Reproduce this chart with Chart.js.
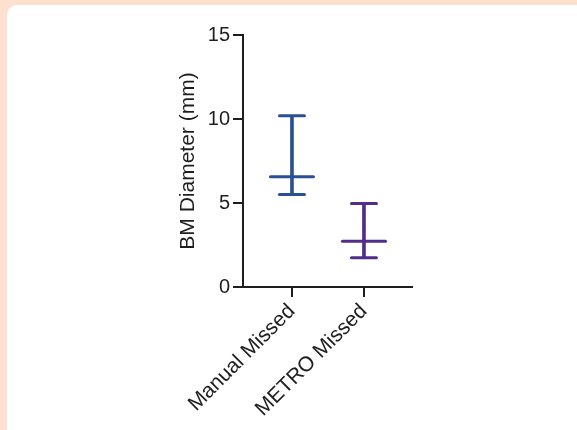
<!DOCTYPE html>
<html>
<head>
<meta charset="utf-8">
<script src="https://cdn.jsdelivr.net/npm/chart.js@4/dist/chart.umd.min.js"></script>
<style>
  html, body { margin: 0; padding: 0; }
  body { width: 577px; height: 430px; background: #fde0cf; position: relative; overflow: hidden; }
  .card { position: absolute; left: 7px; top: 5px; width: 600px; height: 460px; background: #fff; border-radius: 10px; }
  #chart { position: absolute; left: 0; top: 0; }
</style>
</head>
<body>
<div class="card"></div>
<canvas id="chart" width="577" height="430"></canvas>
<script>
const categories = ["Manual Missed", "METRO Missed"];
const medians = [6.56, 2.72];
const lowerRange = [5.51, 1.74];
const upperRange = [10.19, 4.97];
const groupColors = ["#2b4f96", "#512c8c"];
const yTicks = [0, 5, 10, 15];

const FONT = "'Liberation Sans', Arial, Helvetica, sans-serif";
const INK = "#1e1e1e";

const xs = categories.map((c, i) => i + 1);

const whiskers = xs.map((x, i) => ({ x, y: [lowerRange[i], upperRange[i]] }));
const caps = [];
const capColors = [];
xs.forEach((x, i) => {
  caps.push({ x, y: upperRange[i] }, { x, y: lowerRange[i] });
  capColors.push(groupColors[i], groupColors[i]);
});
const mids = xs.map((x, i) => ({ x, y: medians[i] }));

// rounded ends on the whisker caps and median lines
const roundCaps = {
  id: "roundCaps",
  beforeDatasetsDraw(chart){ chart.ctx.lineCap = "round"; },
};

new Chart(document.getElementById("chart"), {
  type: "bar",
  data: {
    datasets: [
      { type: "bar", data: whiskers, backgroundColor: groupColors, barThickness: 3, borderWidth: 0 },
      { type: "scatter", data: caps, pointStyle: "line", pointRadius: 12.5, pointBorderWidth: 3, borderColor: capColors, pointBorderColor: capColors },
      { type: "scatter", data: mids, pointStyle: "line", pointRadius: 21.5, pointBorderWidth: 3, borderColor: groupColors, pointBorderColor: groupColors },
    ],
  },
  options: {
    responsive: false,
    animation: false,
    events: [],
    layout: { padding: { left: 170, top: 35, right: 165, bottom: 13 } },
    plugins: { legend: { display: false }, tooltip: { enabled: false } },
    scales: {
      x: {
        type: "linear",
        min: 0.32,
        max: 2.667,
        offset: false,
        afterBuildTicks: (s) => { s.ticks = xs.map((v) => ({ value: v })); },
        afterFit: (s) => { s.height = 130; },
        grid: { offset: false, drawOnChartArea: false, drawTicks: true, tickLength: 10, color: INK, lineWidth: 2 },
        border: { color: INK, width: 2 },
        ticks: {
          color: INK,
          font: { family: FONT, size: 21 },
          minRotation: 45,
          maxRotation: 45,
          padding: 2,
          callback: (v) => categories[v - 1] || "",
        },
      },
      y: {
        min: 0,
        max: 15,
        afterBuildTicks: (s) => { s.ticks = yTicks.map((v) => ({ value: v })); },
        afterFit: (s) => { s.width = 73; },
        grid: { drawOnChartArea: false, drawTicks: true, tickLength: 10, color: INK, lineWidth: 2 },
        border: { color: INK, width: 2 },
        ticks: { color: INK, font: { family: FONT, size: 20 }, padding: 3 },
        title: { display: true, text: "BM Diameter (mm)", color: INK, font: { family: FONT, size: 21 }, padding: { top: 6, bottom: 0 } },
      },
    },
  },
  plugins: [roundCaps],
});
</script>
</body>
</html>
